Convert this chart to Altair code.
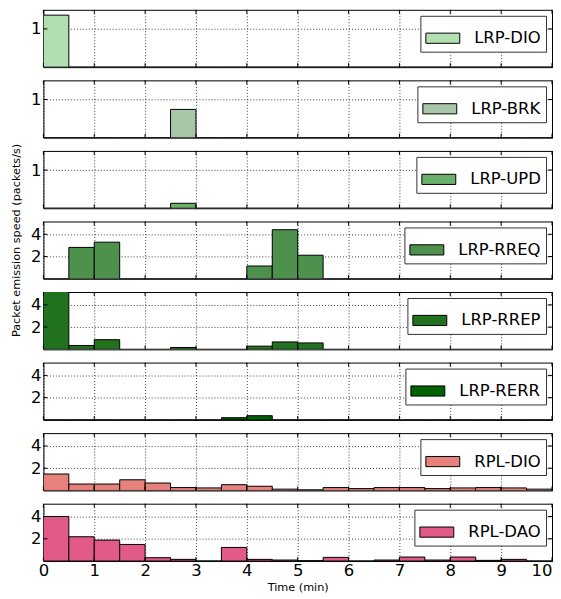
import altair as alt
import pandas as pd

# ---- data ----
bin_start = [0.0, 0.5, 1.0, 1.5, 2.0, 2.5, 3.0, 3.5, 4.0, 4.5,
             5.0, 5.5, 6.0, 6.5, 7.0, 7.5, 8.0, 8.5, 9.0, 9.5]
bin_end = [0.5, 1.0, 1.5, 2.0, 2.5, 3.0, 3.5, 4.0, 4.5, 5.0,
           5.5, 6.0, 6.5, 7.0, 7.5, 8.0, 8.5, 9.0, 9.5, 10.0]

series_names = ["LRP-DIO", "LRP-BRK", "LRP-UPD", "LRP-RREQ",
                "LRP-RREP", "LRP-RERR", "RPL-DIO", "RPL-DAO"]

lrp_dio = [1.36, 0, 0, 0, 0, 0, 0, 0, 0, 0, 0, 0, 0, 0, 0, 0, 0, 0, 0, 0]
lrp_brk = [0, 0, 0, 0, 0, 0.74, 0, 0, 0, 0, 0, 0, 0, 0, 0, 0, 0, 0, 0, 0]
lrp_upd = [0, 0, 0, 0, 0, 0.13, 0, 0, 0, 0, 0, 0, 0, 0, 0, 0, 0, 0, 0, 0]
lrp_rreq = [0, 2.82, 3.29, 0, 0, 0, 0, 0, 1.15, 4.41,
            2.12, 0, 0, 0, 0, 0, 0, 0, 0, 0]
lrp_rrep = [5.3, 0.35, 0.87, 0, 0, 0.17, 0, 0, 0.29, 0.67,
            0.58, 0, 0, 0, 0, 0, 0, 0, 0, 0]
lrp_rerr = [0, 0, 0, 0, 0, 0, 0, 0.2, 0.38, 0, 0, 0, 0, 0, 0, 0, 0, 0, 0, 0]
rpl_dio = [1.48, 0.58, 0.58, 0.96, 0.67, 0.26, 0.23, 0.52, 0.38, 0.12,
           0.06, 0.26, 0.17, 0.26, 0.26, 0.17, 0.23, 0.26, 0.23, 0.12]
rpl_dao = [4.0, 2.18, 1.88, 1.49, 0.30, 0.15, 0, 1.22, 0.15, 0.09,
           0.03, 0.33, 0, 0.09, 0.36, 0.09, 0.36, 0.06, 0.15, 0]

series_values = [lrp_dio, lrp_brk, lrp_upd, lrp_rreq,
                 lrp_rrep, lrp_rerr, rpl_dio, rpl_dao]
series_colors = ["#b2dfb2", "#a8c6a8", "#6aaf6a", "#4d914d",
                 "#21711f", "#006200", "#e6817b", "#e15a88"]
y_max = [1.5, 1.5, 1.5, 5.15, 5.15, 5.15, 5.15, 5.15]
y_ticks = [[1], [1], [1], [2, 4], [2, 4], [2, 4], [2, 4], [2, 4]]

x_ticks = [0, 1, 2, 3, 4, 5, 6, 7, 8, 9, 10]
x_title = "Time (min)"
y_title = "Packet emission speed (packets/s)"

FONT = "DejaVu Sans"
FS = 16.5
W = 510
H = 57.5
TICK = 4

panels = []
for i, name in enumerate(series_names):
    df = pd.DataFrame({"start": bin_start, "end": bin_end,
                       "value": series_values[i], "series": name})
    last = i == len(series_names) - 1
    if last:
        xaxis = alt.Axis(values=x_ticks, labels=True, title=x_title,
                         labelPadding=2, titlePadding=2, titleFontSize=11.3,
                         titleFontWeight="normal", titleColor="black",
                         labelFlush=False,
                         labelAlign={"condition": {"test": "datum.value == 10",
                                                   "value": "right"},
                                     "value": "center"})
    else:
        xaxis = alt.Axis(values=x_ticks, labels=False, title=None)
    xs = alt.Scale(domain=[0, 10], nice=False, zero=False)
    ys = alt.Scale(domain=[0, y_max[i]], nice=False)
    bars = alt.Chart(df).mark_rect(stroke="black", strokeWidth=1, clip=True,
                                   opacity=1).encode(
        x=alt.X("start:Q", scale=xs, axis=xaxis),
        x2="end:Q",
        y=alt.Y("value:Q", scale=ys,
                axis=alt.Axis(values=y_ticks[i], title=None, labelPadding=2.5)),
        y2=alt.datum(0),
        fill=alt.Fill("series:N",
                      scale=alt.Scale(domain=[name], range=[series_colors[i]]),
                      legend=alt.Legend(
                          title=None, orient="top-right", offset=6,
                          fillColor="white", strokeColor="#333333",
                          padding=5, labelFontSize=FS, labelFont=FONT,
                          labelColor="black", labelOffset=14,
                          symbolType="M-1,-0.3H1V0.3H-1Z", symbolSize=1156,
                          symbolStrokeColor="black", symbolStrokeWidth=1,
                          symbolOpacity=1, cornerRadius=0)),
    )
    tdf = pd.DataFrame({"t": x_ticks})
    top_ticks = alt.Chart(tdf).mark_rule(color="black", strokeWidth=1).encode(
        x=alt.X("t:Q", scale=xs), y=alt.value(0), y2=alt.value(TICK))
    bot_ticks = alt.Chart(tdf).mark_rule(color="black", strokeWidth=1).encode(
        x=alt.X("t:Q", scale=xs), y=alt.value(H - TICK), y2=alt.value(H))
    vdf = pd.DataFrame({"v": y_ticks[i]})
    left_ticks = alt.Chart(vdf).mark_rule(color="black", strokeWidth=1).encode(
        y=alt.Y("v:Q", scale=ys), x=alt.value(0), x2=alt.value(TICK))
    right_ticks = alt.Chart(vdf).mark_rule(color="black", strokeWidth=1).encode(
        y=alt.Y("v:Q", scale=ys), x=alt.value(W - TICK), x2=alt.value(W))
    layers = [bars, top_ticks, bot_ticks, left_ticks, right_ticks]
    if i == 3:
        ylab = alt.Chart(pd.DataFrame({"t": [y_title]})).mark_text(
            angle=270, fontSize=11.3, font=FONT, color="black",
            align="center", baseline="middle").encode(
            text="t:N", x=alt.value(-26.5), y=alt.value(19))
        layers.append(ylab)
    panels.append(alt.layer(*layers).properties(width=W, height=H))

chart = alt.vconcat(*panels, spacing=12.75, bounds="flush").resolve_scale(
    fill="independent", y="independent"
).resolve_legend(fill="independent").properties(
    padding={"left": 1.5, "top": 0, "right": 0, "bottom": 0}
).configure_view(
    stroke="black", strokeWidth=1
).configure_axis(
    grid=True, gridColor="black", gridDash=[1, 2], gridOpacity=0.75,
    gridWidth=1, domain=False, ticks=False, labelFont=FONT, labelFontSize=FS,
    labelColor="black", titleFont=FONT
)

chart.save("out.html", embed_options={"renderer": "svg", "actions": False})
